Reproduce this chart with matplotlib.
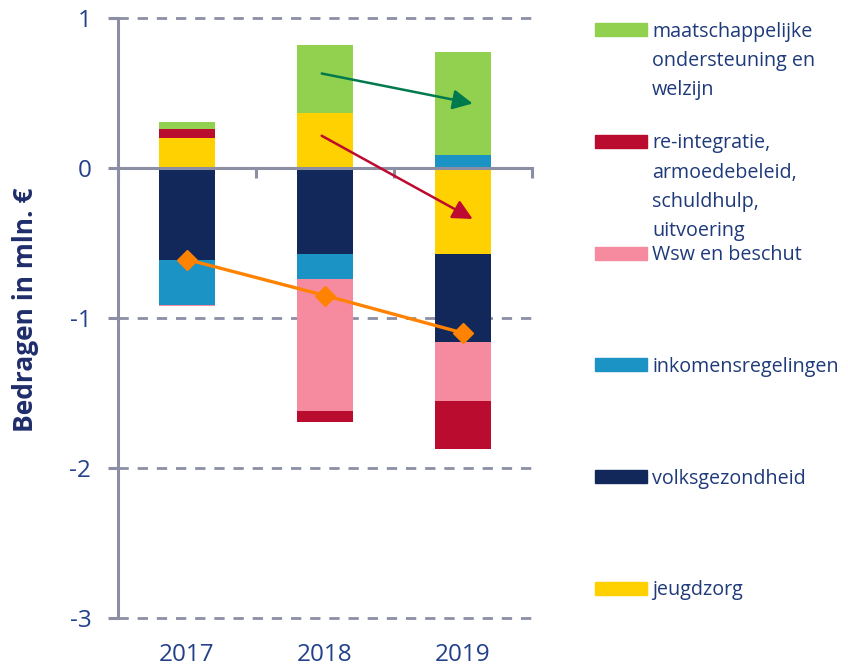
import matplotlib
matplotlib.use("Agg")
import matplotlib.pyplot as plt
from matplotlib.patches import Rectangle
from matplotlib.transforms import blended_transform_factory
import numpy as np

plt.rcParams['font.family'] = ['Open Sans', 'DejaVu Sans']

# --- data (mln. euro) ---
years = ['2017', '2018', '2019']
jeugdzorg = [0.20, 0.37, -0.57]
volksgezondheid = [-0.61, -0.57, -0.59]
inkomensregelingen = [-0.30, -0.17, 0.09]
wsw_beschut = [-0.01, -0.88, -0.39]
reintegratie = [0.06, -0.07, -0.32]
maatschappelijk = [0.05, 0.45, 0.68]
saldo = [-0.61, -0.85, -1.10]

series = [jeugdzorg, volksgezondheid, inkomensregelingen,
          wsw_beschut, reintegratie, maatschappelijk]
labels = ['jeugdzorg', 'volksgezondheid', 'inkomensregelingen',
          'Wsw en beschut',
          're-integratie,\narmoedebeleid,\nschuldhulp,\nuitvoering',
          'maatschappelijke\nondersteuning en\nwelzijn']
colors = ['#FFD100', '#12285A', '#1B93C4', '#F68BA0', '#BA0C2F', '#92D050']

# trend arrows (start x, start y, end x, end y)
arrow_green = (0.976, 0.63, 2.07, 0.43)
arrow_red = (0.976, 0.215, 2.07, -0.34)

axis_grey = '#8C8EA4'
text_blue = '#22418A'

fig = plt.figure(figsize=(8.48, 6.7), dpi=100)
ax = fig.add_axes([118/848, 1-618/670, (532-118)/848, 600/670])

x = np.arange(len(years))
pos_bottom = np.zeros(len(years))
neg_bottom = np.zeros(len(years))
for vals, col in zip(series, colors):
    vals = np.array(vals)
    bottom = np.where(vals >= 0, pos_bottom, neg_bottom)
    ax.bar(x, vals, width=0.40, bottom=bottom, color=col, linewidth=0, zorder=2)
    pos_bottom += np.where(vals >= 0, vals, 0)
    neg_bottom += np.where(vals < 0, vals, 0)

ax.plot(x, saldo, color='#FF8200', lw=2.4, marker='D', ms=10, zorder=4)

for (x0, y0, x1, y1), col in [(arrow_green, '#007A4D'), (arrow_red, '#BE0A30')]:
    ax.annotate('', xy=(x1, y1), xytext=(x0, y0),
                arrowprops=dict(arrowstyle='-|>', color=col, lw=1.8,
                                mutation_scale=30, shrinkA=0, shrinkB=0),
                zorder=5)

ax.set_xlim(-0.5, 2.5)
ax.set_ylim(-3, 1)
ax.set_yticks([1, 0, -1, -2, -3])
ax.set_yticklabels(['1', '0', '-1', '-2', '-3'])
for yv in [1, -1, -2, -3]:
    ax.axhline(yv, color=axis_grey, lw=2.0, ls=(0, (3.7, 3.2)), zorder=1,
               clip_on=False)

ax.spines['top'].set_visible(False)
ax.spines['right'].set_visible(False)
ax.spines['left'].set_color(axis_grey)
ax.spines['left'].set_linewidth(2.2)
ax.spines['bottom'].set_position(('data', 0))
ax.spines['bottom'].set_color(axis_grey)
ax.spines['bottom'].set_linewidth(2.2)
ax.spines['bottom'].set_zorder(3)

ax.tick_params(axis='y', length=7.2, width=2.2, color=axis_grey,
               labelcolor=text_blue, labelsize=17.5, pad=12)
ax.set_xticks(x)
ax.set_xticklabels([])
ax.tick_params(axis='x', which='major', length=0)
ax.set_xticks(np.arange(-0.5, 2.6, 1.0), minor=True)
ax.tick_params(axis='x', which='minor', length=7.2, width=2.2,
               color=axis_grey, direction='out')

trans = blended_transform_factory(ax.transData, ax.transAxes)
for xi, yr in zip(x, years):
    ax.text(xi, -0.062, yr, transform=trans, ha='center', va='center',
            fontsize=17.5, color=text_blue)

fig.text(26/848, 1-310/670, 'Bedragen in mln. €', rotation=90,
         ha='center', va='center', fontsize=19, fontweight='bold',
         color='#1F2E6B')

# legend, drawn by hand (reverse series order)
for i, (lab, col) in enumerate(zip(labels[::-1], colors[::-1])):
    yc = 29.5 + i * 111.8
    fig.patches.append(Rectangle((595/848, 1-(yc+6.5)/670), 52/848, 13/670,
                                 transform=fig.transFigure, color=col))
    fig.text(652/848, 1-(yc-8)/670, lab, ha='left', va='top',
             fontsize=14.2, color='#1F3A7A', linespacing=1.62)

fig.savefig('out.png', dpi=100)
